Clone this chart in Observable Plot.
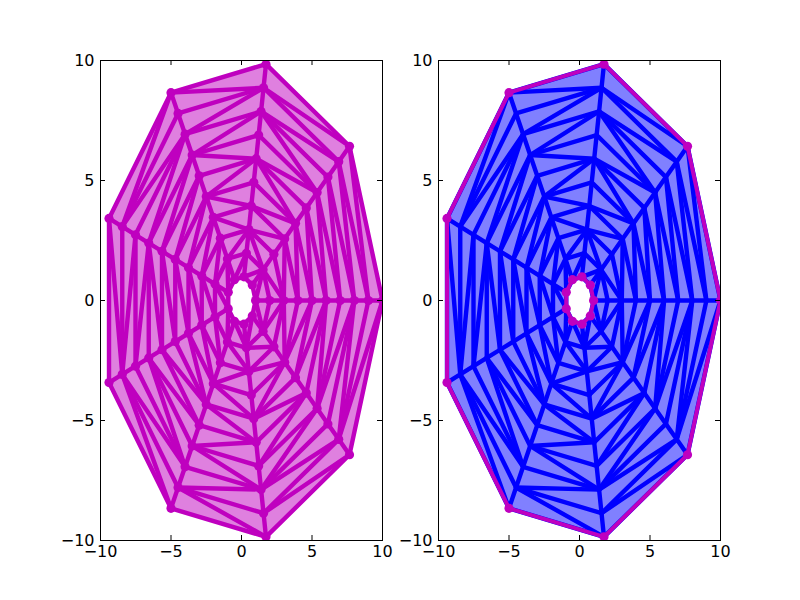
<!DOCTYPE html>
<html><head><meta charset="utf-8">
<script src="https://cdn.jsdelivr.net/npm/d3@7"></script>
<script src="https://cdn.jsdelivr.net/npm/@observablehq/plot@0.6"></script>
<style>
body{margin:0;background:#fff;}
#fig{position:relative;width:800px;height:600px;font-family:"DejaVu Sans";}
#fig svg{position:absolute;top:0;}
</style></head><body><div id="fig"></div>
<script>
// polar grid of the mesh: ray angles (degrees) and ring radii
const angles = [0, 40, 80, 120, 160, 200, 240, 280, 320];
const radii = [1, 2, 3, 4, 5, 6, 7, 8, 9, 10];
const xTicks = [-10, -5, 0, 5, 10];
const yTicks = [-10, -5, 0, 5, 10];
const tickLabels = ["−10", "−5", "0", "5", "10"];

const points = [];
radii.forEach((r, ri) => angles.forEach((a, ai) => points.push({
  r, a, ri, ai,
  x: r * Math.cos(a * Math.PI / 180),
  y: r * Math.sin(a * Math.PI / 180)
})));

const dl = d3.Delaunay.from(points, d => d.x, d => d.y);
const tris = [];
for (let i = 0; i < dl.triangles.length; i += 3) {
  const t = [dl.triangles[i], dl.triangles[i + 1], dl.triangles[i + 2]];
  if (t.every(k => points[k].ri === 0)) continue; // hole
  tris.push(t);
}
const triVerts = [];
tris.forEach((t, ti) => t.forEach(k => triVerts.push({tri: ti, x: points[k].x, y: points[k].y})));
const edgeMap = new Map();
tris.forEach(t => {
  for (let j = 0; j < 3; j++) {
    const a = t[j], b = t[(j + 1) % 3];
    const key = Math.min(a, b) + "-" + Math.max(a, b);
    if (!edgeMap.has(key)) edgeMap.set(key, {x1: points[a].x, y1: points[a].y, x2: points[b].x, y2: points[b].y});
  }
});
const edges = [...edgeMap.values()];
const boundary = points.filter(p => p.ri === 0 || p.ri === radii.length - 1);

const M = "#bf00bf";
const fmt = d => tickLabels[xTicks.indexOf(d)];

function panel({left, fill, stroke, showBoundary}) {
  const W = 400, H = 600;
  const marks = [
    Plot.line(triVerts, {x: "x", y: "y", z: "tri", curve: "linear-closed", fill, stroke: "none", clip: true}),
    Plot.link(edges, {x1: "x1", y1: "y1", x2: "x2", y2: "y2", stroke, strokeWidth: 4.4, strokeLinecap: "round", clip: true}),
  ];
  if (showBoundary) {
    marks.push(Plot.line(boundary, {x: "x", y: "y", z: "ri", sort: "a", curve: "linear-closed", stroke: M, strokeWidth: 4, clip: true}));
    marks.push(Plot.dot(boundary, {x: "x", y: "y", r: 4.6, fill: M, stroke: "none", clip: true}));
  } else {
    marks.push(Plot.dot(points, {x: "x", y: "y", r: 4.6, fill: M, stroke: "none", clip: true}));
  }
  marks.push(
    Plot.frame({stroke: "black", strokeWidth: 1}),
    Plot.tickX(xTicks, {x: d => d, insetBottom: 475, stroke: "black"}),
    Plot.tickX(xTicks, {x: d => d, insetTop: 475, stroke: "black"}),
    Plot.tickY(yTicks, {y: d => d, insetRight: 277, stroke: "black"}),
    Plot.tickY(yTicks, {y: d => d, insetLeft: 277, stroke: "black"}),
    Plot.axisX(xTicks, {tickSize: 0, tickPadding: 5, tickFormat: fmt, label: null, fill: "black"}),
    Plot.axisY(yTicks, {tickSize: 0, tickPadding: 6, tickFormat: fmt, label: null, fill: "black"})
  );
  return Plot.plot({
    width: W, height: H,
    marginLeft: left, marginRight: W - left - 282, marginTop: 60, marginBottom: 60,
    x: {domain: [-10, 10]},
    y: {domain: [-10, 10]},
    style: {fontSize: "16px", fontFamily: "DejaVu Sans", color: "black", background: "transparent", overflow: "visible"},
    marks
  });
}

const fig = document.getElementById("fig");
const a = panel({left: 100, fill: "#df80df", stroke: M, showBoundary: false});
a.style.left = "0px";
const b = panel({left: 38, fill: "#8080ff", stroke: "#0000ff", showBoundary: true});
b.style.left = "400px";
fig.appendChild(a);
fig.appendChild(b);
</script>
</body></html>
